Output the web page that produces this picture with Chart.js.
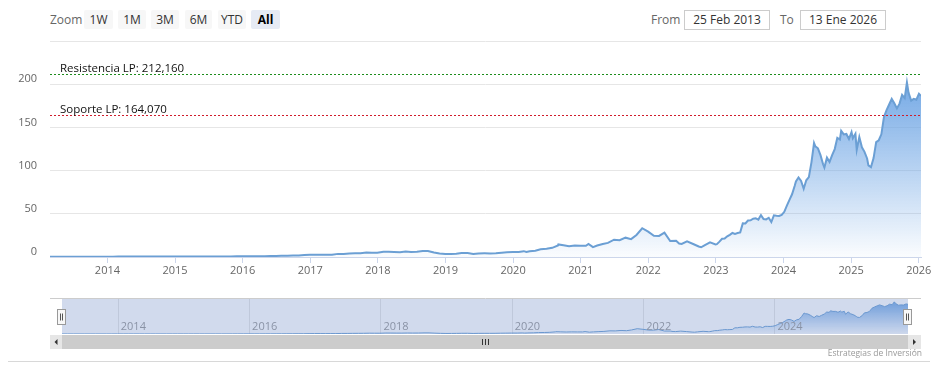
<!DOCTYPE html>
<html>
<head>
<meta charset="utf-8">
<script src="https://cdn.jsdelivr.net/npm/chart.js@4/dist/chart.umd.min.js"></script>
<style>
  body { margin: 0; background: #fff; font-family: "Open Sans", sans-serif; }
  #wrap { position: relative; width: 938px; height: 382px; overflow: hidden; }
  canvas { position: absolute; left: 0; }
  .lbl { position: absolute; top: 10px; height: 19px; line-height: 19px; font-size: 12px; color: #666; }
  .btn { position: absolute; top: 10px; height: 19px; line-height: 19px; font-size: 12px; color: #333;
         background: #f7f7f7; text-align: center; border-radius: 2px; }
  .btn.on { background: #e6ebf5; font-weight: bold; color: #000; }
  .box { position: absolute; top: 10px; height: 20px; width: 86px; box-sizing: border-box; border: 1px solid #ccc;
         line-height: 18px; font-size: 12px; color: #333; text-align: center; background: #fff; }
  #foot { position: absolute; left: 8px; top: 361px; width: 922px; border-top: 1px solid #d8d8d8; }
  #credits { position: absolute; right: 16px; top: 347px; font-size: 8.5px; color: #999; }
</style>
</head>
<body>
<div id="wrap">
  <div class="lbl" style="left:50px">Zoom</div>
  <div class="btn" style="left:84px;width:29px">1W</div>
  <div class="btn" style="left:118px;width:28px">1M</div>
  <div class="btn" style="left:151px;width:28px">3M</div>
  <div class="btn" style="left:185px;width:27px">6M</div>
  <div class="btn" style="left:218px;width:28px">YTD</div>
  <div class="btn on" style="left:251px;width:29px">All</div>
  <div class="lbl" style="left:651px">From</div>
  <div class="box" style="left:684px">25 Feb 2013</div>
  <div class="lbl" style="left:780px">To</div>
  <div class="box" style="left:800px">13 Ene 2026</div>

  <canvas id="main" width="938" height="285" style="top:0"></canvas>
  <canvas id="nav" width="938" height="72" style="top:290px"></canvas>

  <div id="credits">Estrategias de Inversión</div>
  <div id="foot"></div>
</div>
<script>
// closing prices
const dates = [
  '2013-02-25','2013-03-28','2013-04-30','2013-05-31','2013-06-28','2013-07-31','2013-08-30','2013-09-30','2013-10-31','2013-11-29','2013-12-31',
  '2014-01-31','2014-02-28','2014-03-31','2014-04-30','2014-05-30','2014-06-30','2014-07-31','2014-08-29','2014-09-30','2014-10-31','2014-11-28','2014-12-31',
  '2015-01-30','2015-02-27','2015-03-31','2015-04-30','2015-05-29','2015-06-30','2015-07-31','2015-08-31','2015-09-30','2015-10-30','2015-11-30','2015-12-31',
  '2016-01-29','2016-02-29','2016-03-31','2016-04-29','2016-05-31','2016-06-30','2016-07-29','2016-08-31','2016-09-30','2016-10-31','2016-11-30','2016-12-30',
  '2017-01-31','2017-02-28','2017-03-31','2017-04-28','2017-05-31','2017-06-30','2017-07-31','2017-08-31','2017-09-29','2017-10-31','2017-11-30','2017-12-29',
  '2018-01-31','2018-02-28','2018-03-29','2018-04-30','2018-05-31','2018-06-29','2018-07-31','2018-08-31','2018-09-28','2018-10-31','2018-11-30','2018-12-31',
  '2019-01-31','2019-02-28','2019-03-29','2019-04-30','2019-05-31','2019-06-28','2019-07-31','2019-08-30','2019-09-30','2019-10-31','2019-11-29','2019-12-31',
  '2020-01-31','2020-02-28','2020-03-13','2020-03-31','2020-04-30','2020-05-29','2020-06-30','2020-07-31','2020-08-31','2020-09-02','2020-09-30','2020-10-30','2020-11-30','2020-12-31',
  '2021-01-29','2021-02-12','2021-03-08','2021-03-31','2021-04-30','2021-05-28','2021-06-30','2021-07-30','2021-08-31','2021-09-30','2021-10-29','2021-11-29','2021-12-31',
  '2022-01-31','2022-02-28','2022-03-29','2022-04-29','2022-05-31','2022-06-16','2022-06-30','2022-07-29','2022-08-31','2022-09-30','2022-10-13','2022-10-31','2022-11-30','2022-12-30',
  '2023-01-06','2023-01-20','2023-02-03','2023-02-17','2023-03-03','2023-03-17','2023-03-31','2023-04-14','2023-04-28','2023-05-12','2023-05-26','2023-06-09','2023-06-23',
  '2023-07-07','2023-07-21','2023-08-04','2023-08-18','2023-09-01','2023-09-15','2023-09-29','2023-10-13','2023-10-27','2023-11-10','2023-11-24','2023-12-08','2023-12-22',
  '2024-01-05','2024-01-19','2024-02-02','2024-02-16','2024-03-01','2024-03-08','2024-03-22','2024-04-05','2024-04-19','2024-05-03','2024-05-17','2024-05-31','2024-06-14',
  '2024-06-21','2024-07-05','2024-07-19','2024-08-02','2024-08-09','2024-08-23','2024-09-06','2024-09-20','2024-10-04','2024-10-18','2024-11-01','2024-11-08','2024-11-22',
  '2024-12-06','2024-12-20','2025-01-03','2025-01-10','2025-01-24','2025-01-31','2025-02-14','2025-02-28','2025-03-14','2025-03-28','2025-04-04','2025-04-18','2025-05-02',
  '2025-05-16','2025-05-30','2025-06-13','2025-06-27','2025-07-11','2025-07-25','2025-08-08','2025-08-22','2025-09-05','2025-09-19','2025-10-03','2025-10-17','2025-10-29',
  '2025-11-07','2025-11-21','2025-12-05','2025-12-19','2026-01-02','2026-01-13'
];
const closes = [
  0.31,0.32,0.33,0.36,0.35,0.34,0.36,0.39,0.38,0.39,0.40,
  0.39,0.45,0.45,0.46,0.48,0.46,0.44,0.48,0.46,0.49,0.52,0.50,
  0.48,0.57,0.52,0.56,0.55,0.50,0.50,0.56,0.62,0.71,0.80,0.82,
  0.73,0.78,0.89,0.89,1.16,1.18,1.43,1.53,1.71,1.74,2.31,2.67,
  2.73,2.54,2.72,2.60,3.61,3.61,4.06,4.22,4.47,5.17,5.00,4.84,
  6.14,6.03,5.79,5.62,6.30,5.92,6.12,7.02,7.02,5.27,4.08,3.34,
  3.59,3.85,4.49,4.52,3.39,4.11,4.22,4.19,4.35,5.01,5.42,5.88,
  5.91,6.74,5.73,6.59,7.31,8.87,9.49,10.61,13.38,14.56,13.53,12.54,13.40,13.06,
  12.99,15.19,11.50,13.35,15.01,16.33,20.00,19.50,22.37,20.71,25.55,33.30,29.41,
  24.49,24.37,28.20,18.55,18.66,15.60,15.16,18.16,15.09,12.14,11.26,13.50,16.92,14.61,
  14.9,17.8,21.1,21.3,23.9,25.7,27.8,26.8,27.7,28.5,38.9,38.8,42.2,
  42.5,44.3,44.7,43.3,48.5,43.9,43.5,45.4,40.5,48.3,47.8,47.5,48.8,
  52.3,59.5,66.1,72.6,82.2,87.5,92.0,88.0,79.0,88.8,92.5,109.6,131.9,
  128.0,125.8,117.9,107.3,103.5,115.0,110.0,118.0,124.9,138.0,136.0,146.0,141.9,
  142.4,136.5,144.5,137.5,142.6,124.0,138.9,127.0,121.7,114.0,106.0,104.0,114.5,
  133.0,135.1,142.0,162.0,170.0,176.5,183.0,178.0,172.0,177.5,187.6,184.0,202.0,
  190.0,181.0,183.0,182.0,189.0,186.5
];
const yearTicks = [2014, 2015, 2016, 2017, 2018, 2019, 2020, 2021, 2022, 2023, 2024, 2025, 2026];
const navYears = [2014, 2016, 2018, 2020, 2022, 2024];
const yTicks = [0, 50, 100, 150, 200, 250];
const levels = [212.16, 164.07];
const levelLabels = ['Resistencia LP: 212,160', 'Soporte LP: 164,070'];
const levelColors = ['#1c8c1c', '#d01c2c'];

function toYear(s) {
  const d = new Date(s + 'T00:00:00Z');
  const y = d.getUTCFullYear();
  const a = Date.UTC(y, 0, 1), b = Date.UTC(y + 1, 0, 1);
  return y + (d.getTime() - a) / (b - a);
}
const points = dates.map((d, i) => ({ x: toYear(d), y: closes[i] }));
const xMin = toYear('2013-02-25');
const xMax = toYear('2026-01-13');
const maxClose = Math.max(...closes);
const FONT = 'Open Sans';

function areaFill(context) {
  const chart = context.chart;
  const area = chart.chartArea;
  if (!area) return 'rgba(110,165,228,0.3)';
  const top = chart.scales.y.getPixelForValue(maxClose);
  const g = chart.ctx.createLinearGradient(0, top, 0, area.bottom);
  g.addColorStop(0, 'rgba(110,165,228,0.95)');
  g.addColorStop(1, 'rgba(110,165,228,0.03)');
  return g;
}

const plotLines = {
  id: 'plotLines',
  afterDatasetsDraw(chart) {
    const { ctx, chartArea, scales } = chart;
    ctx.save();
    levels.forEach((v, i) => {
      const y = Math.round(scales.y.getPixelForValue(v)) + 0.5;
      ctx.strokeStyle = levelColors[i];
      ctx.lineWidth = 1;
      ctx.setLineDash([2, 2]);
      ctx.beginPath();
      ctx.moveTo(chartArea.left, y);
      ctx.lineTo(chartArea.right, y);
      ctx.stroke();
      ctx.setLineDash([]);
      ctx.fillStyle = '#111';
      ctx.font = '11.5px "' + FONT + '"';
      ctx.textBaseline = 'alphabetic';
      ctx.fillText(levelLabels[i], chartArea.left + 10, y - 2.5);
    });
    ctx.restore();
  }
};

new Chart(document.getElementById('main'), {
  type: 'line',
  data: {
    datasets: [{
      data: points,
      borderColor: '#6b9fd4',
      borderWidth: 2,
      pointRadius: 0,
      tension: 0,
      fill: 'origin',
      backgroundColor: areaFill
    }]
  },
  options: {
    responsive: false,
    animation: false,
    layout: { padding: { top: 41, right: 17, left: 0, bottom: 0 } },
    plugins: { legend: { display: false }, tooltip: { enabled: false } },
    scales: {
      x: {
        type: 'linear',
        min: xMin,
        max: xMax,
        afterBuildTicks: s => { s.ticks = yearTicks.map(v => ({ value: v })); },
        afterFit: s => { s.height = 28; },
        grid: { drawOnChartArea: false, drawTicks: true, tickLength: 6, color: '#ccd6eb' },
        border: { color: '#ccd6eb' },
        ticks: {
          padding: 1, color: '#666', autoSkip: false, maxRotation: 0,
          font: { family: FONT, size: 11 },
          callback: v => String(v)
        }
      },
      y: {
        min: 0,
        max: 250,
        afterBuildTicks: s => { s.ticks = yTicks.map(v => ({ value: v })); },
        afterFit: s => { s.width = 50; },
        grid: { color: '#e6e6e6', drawTicks: false },
        border: { display: false },
        ticks: {
          padding: 13, labelOffset: -5, color: '#666',
          font: { family: FONT, size: 11 },
          callback: v => (v === 250 ? '' : String(v))
        }
      }
    }
  },
  plugins: [plotLines]
});

// navigator + scrollbar
const navDecor = {
  id: 'navDecor',
  beforeDatasetsDraw(chart) {
    const { ctx, chartArea, scales } = chart;
    ctx.save();
    ctx.strokeStyle = '#e6e6e6';
    ctx.lineWidth = 1;
    navYears.forEach(yr => {
      const x = Math.round(scales.x.getPixelForValue(yr)) + 0.5;
      ctx.beginPath();
      ctx.moveTo(x, chartArea.top);
      ctx.lineTo(x, chartArea.bottom);
      ctx.stroke();
    });
    ctx.restore();
  },
  afterDatasetsDraw(chart) {
    const { ctx, chartArea, scales } = chart;
    const L = chartArea.left, R = chartArea.right, T = chartArea.top, B = chartArea.bottom;
    ctx.save();
    // year labels
    ctx.fillStyle = '#999';
    ctx.font = '11px "' + FONT + '"';
    ctx.textBaseline = 'middle';
    navYears.forEach(yr => {
      ctx.fillText(String(yr), scales.x.getPixelForValue(yr) + 3, B - 7);
    });
    // outline
    ctx.strokeStyle = '#cccccc';
    ctx.beginPath();
    ctx.moveTo(50, T - 0.5);
    ctx.lineTo(921, T - 0.5);
    ctx.stroke();
    // mask for selected range (everything)
    ctx.fillStyle = 'rgba(102,133,194,0.3)';
    ctx.fillRect(L, T, R - L, B - T);
    // scrollbar
    const sTop = B + 1, sH = 14;
    ctx.fillStyle = '#f2f2f2';
    ctx.fillRect(50, sTop, 921 - 50, sH);
    ctx.fillStyle = '#cccccc';
    ctx.fillRect(L, sTop, R - L, sH);
    ctx.fillStyle = '#e6e6e6';
    ctx.fillRect(50, sTop, L - 50, sH);
    ctx.fillRect(R, sTop, 921 - R, sH);
    ctx.fillStyle = '#333';
    const my = sTop + sH / 2;
    ctx.beginPath();
    ctx.moveTo((50 + L) / 2 - 1.5, my); ctx.lineTo((50 + L) / 2 + 1.5, my - 3); ctx.lineTo((50 + L) / 2 + 1.5, my + 3);
    ctx.closePath(); ctx.fill();
    ctx.beginPath();
    ctx.moveTo((R + 921) / 2 + 1.5, my); ctx.lineTo((R + 921) / 2 - 1.5, my - 3); ctx.lineTo((R + 921) / 2 - 1.5, my + 3);
    ctx.closePath(); ctx.fill();
    ctx.strokeStyle = '#333';
    const cx = Math.round((L + R) / 2);
    [-3, 0, 3].forEach(d => {
      ctx.beginPath();
      ctx.moveTo(cx + d + 0.5, my - 3);
      ctx.lineTo(cx + d + 0.5, my + 3);
      ctx.stroke();
    });
    // handles
    [L, R].forEach(hx => {
      const x0 = Math.round(hx) - 4.5, y0 = T + 10.5;
      ctx.fillStyle = '#f7f7f7';
      ctx.fillRect(x0, y0, 8, 15);
      ctx.strokeStyle = '#999';
      ctx.strokeRect(x0, y0, 8, 15);
      ctx.strokeStyle = '#555';
      [x0 + 3, x0 + 5].forEach(lx => {
        ctx.beginPath();
        ctx.moveTo(lx, y0 + 4);
        ctx.lineTo(lx, y0 + 11);
        ctx.stroke();
      });
    });
    ctx.restore();
  }
};

new Chart(document.getElementById('nav'), {
  type: 'line',
  data: {
    datasets: [{
      data: points,
      borderColor: '#6b9fd4',
      borderWidth: 1,
      pointRadius: 0,
      tension: 0,
      fill: 'origin',
      backgroundColor: areaFill
    }]
  },
  options: {
    responsive: false,
    animation: false,
    layout: { padding: { top: 9, right: 30, left: 62, bottom: 28 } },
    plugins: { legend: { display: false }, tooltip: { enabled: false } },
    scales: {
      x: { type: 'linear', min: xMin, max: xMax, display: false },
      y: { min: 0, max: 220, display: false }
    }
  },
  plugins: [navDecor]
});
</script>
</body>
</html>
